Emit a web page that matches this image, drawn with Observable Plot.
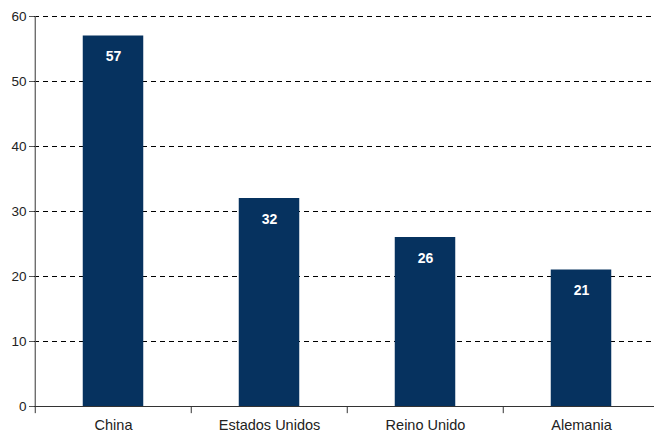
<!DOCTYPE html>
<html>
<head>
<meta charset="utf-8">
<script src="https://cdn.jsdelivr.net/npm/d3@7"></script>
<script src="https://cdn.jsdelivr.net/npm/@observablehq/plot@0.6"></script>
<style>
  html, body { margin: 0; padding: 0; background: #fff; overflow: hidden; }
  #chart svg { display: block; }
</style>
</head>
<body>
<div id="chart"></div>
<script>
const categories = ["China", "Estados Unidos", "Reino Unido", "Alemania"];
const values = [57, 32, 26, 21];
const yTicks = [0, 10, 20, 30, 40, 50, 60];
const gridTicks = [10, 20, 30, 40, 50, 60];

const data = categories.map((c, i) => ({ country: c, value: values[i] }));

const x0 = 34, x1 = 660;
const step = (x1 - x0) / categories.length;
const barW = 61;
const inset = (step - barW) / 2;
const navy = "#06325f";

const chart = Plot.plot({
  width: 654,
  height: 432,
  marginTop: 16,
  marginBottom: 26,
  marginLeft: 34,
  marginRight: 0,
  style: { fontFamily: "'Liberation Sans', Arial, sans-serif", fontSize: "13px", color: "#222", background: "#fff" },
  x: { domain: categories, range: [x0, x1], padding: 0, label: null },
  y: { domain: [0, 60], label: null },
  marks: [
    Plot.ruleY(gridTicks, { stroke: "#000", strokeWidth: 1, strokeDasharray: "5,4" }),
    Plot.barY(data, { x: "country", y: "value", fill: navy, insetLeft: inset, insetRight: inset }),
    Plot.text(data, { x: "country", y: "value", text: d => String(d.value), fill: "#fff", fontWeight: "bold", fontSize: 14, dy: 21 }),
    Plot.ruleY([0], { stroke: "#333", strokeWidth: 1 }),
    Plot.ruleX(categories, { x: d => d, dx: -step / 2, y1: 0, y2: -1.1, stroke: "#333", strokeWidth: 1 }),
    Plot.ruleX([categories[0]], { x: d => d, dx: -step / 2, y1: 0, y2: 60, stroke: "#555", strokeWidth: 1.2 }),
    Plot.axisY({ ticks: yTicks, tickSize: 5, tickPadding: 3, stroke: "#555", fill: "#222", fontSize: 13.5 }),
    Plot.axisX({ tickSize: 0, tickPadding: 13, fill: "#222", fontSize: 14.5 })
  ]
});
document.getElementById("chart").appendChild(chart);
</script>
</body>
</html>
